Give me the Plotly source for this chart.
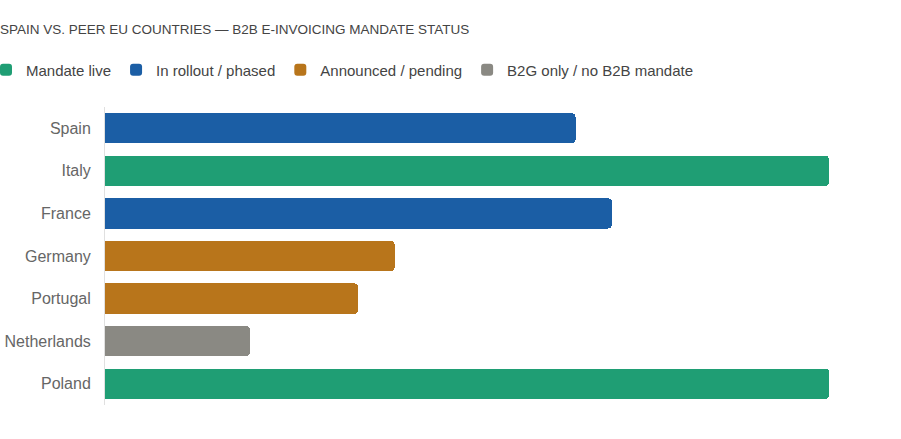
import plotly.graph_objects as go

countries = ['Spain', 'Italy', 'France', 'Germany', 'Portugal', 'Netherlands', 'Poland']
progress = [65, 100, 70, 40, 35, 20, 100]
status = ['In rollout / phased', 'Mandate live', 'In rollout / phased', 'Announced / pending',
          'Announced / pending', 'B2G only / no B2B mandate', 'Mandate live']

status_order = ['Mandate live', 'In rollout / phased', 'Announced / pending', 'B2G only / no B2B mandate']
status_colors = ['#1f9e74', '#1b5ea5', '#b8751b', '#8a8983']

title = 'SPAIN VS. PEER EU COUNTRIES — B2B E-INVOICING MANDATE STATUS'

fig = go.Figure()
for s, c in zip(status_order, status_colors):
    ys = [k for k, st in zip(countries, status) if st == s]
    xs = [v for v, st in zip(progress, status) if st == s]
    fig.add_trace(go.Bar(x=xs, y=ys, orientation='h', name=s, marker_color=c,
                         marker_line_width=0, hoverinfo='skip'))

fig.update_layout(
    width=901, height=439,
    barmode='stack', bargap=0.29, barcornerradius=4,
    plot_bgcolor='white', paper_bgcolor='white',
    margin=dict(l=105, r=72, t=107, b=34, autoexpand=False),
    font=dict(family='Liberation Sans, Arial, sans-serif', color='#555'),
    title=dict(text=title, x=0, xref='container', xanchor='left', y=1 - 29 / 439, yref='container',
               yanchor='middle', font=dict(size=13.5, color='#444')),
    legend=dict(orientation='h', x=-119 / 724, xref='paper', xanchor='left',
                y=1 + 37 / 298, yref='paper', yanchor='middle',
                font=dict(size=15, color='#444'), itemwidth=30, traceorder='normal'),
    showlegend=True,
)
fig.update_xaxes(visible=False, range=[0, 100], fixedrange=True)
fig.update_yaxes(categoryorder='array', categoryarray=countries, autorange='reversed',
                 showline=True, linecolor='#e0e0e0', linewidth=1, showgrid=False, automargin=False,
                 ticks='', ticklabelstandoff=10, tickfont=dict(size=16, color='#666'))

# drop the default page margin so the figure sits at the window's corner
fig.write_html('out.html', config={'displayModeBar': False},
               post_script="document.body.style.margin = '0';")
